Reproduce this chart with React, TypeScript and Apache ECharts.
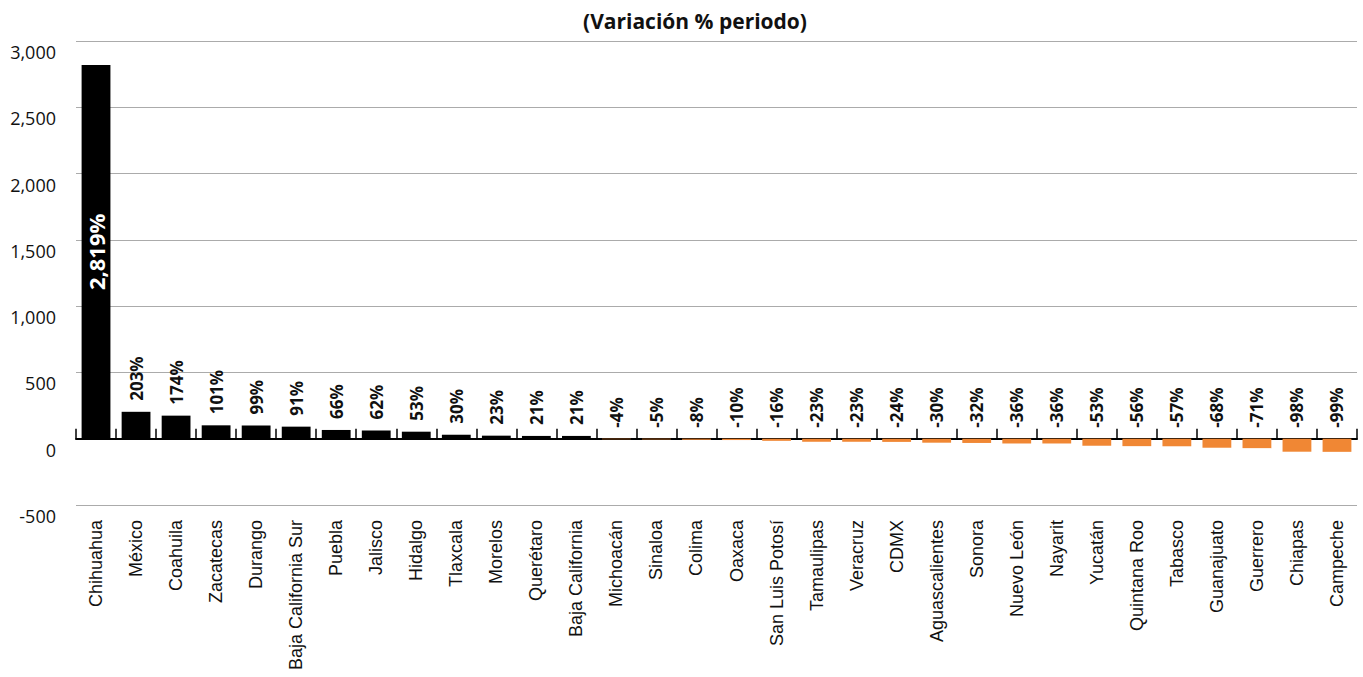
import React, { useEffect, useRef } from "react";
import * as echarts from "echarts";

const categories = [
  "Chihuahua", "México", "Coahuila", "Zacatecas", "Durango", "Baja California Sur",
  "Puebla", "Jalisco", "Hidalgo", "Tlaxcala", "Morelos", "Querétaro", "Baja California",
  "Michoacán", "Sinaloa", "Colima", "Oaxaca", "San Luis Potosí", "Tamaulipas", "Veracruz",
  "CDMX", "Aguascalientes", "Sonora", "Nuevo León", "Nayarit", "Yucatán", "Quintana Roo",
  "Tabasco", "Guanajuato", "Guerrero", "Chiapas", "Campeche",
];

const values = [
  2819, 203, 174, 101, 99, 91, 66, 62, 53, 30, 23, 21, 21,
  -4, -5, -8, -10, -16, -23, -23, -24, -30, -32, -36, -36, -53, -56,
  -57, -68, -71, -98, -99,
];

const yTicks = { min: -500, max: 3000, interval: 500 };
const title = "(Variación % periodo)";

const POS = "#000000";
const NEG = "#F08734";

const fmt = (v: number) => v.toLocaleString("en-US");

export default function App() {
  const ref = useRef<HTMLDivElement>(null);
  useEffect(() => {
    if (!ref.current) return;
    const chart = echarts.init(ref.current, undefined, { renderer: "svg" });
    const mainData = values.map((v, i) => ({
      value: v,
      itemStyle: { color: v >= 0 ? POS : NEG },
      label:
        i === 0
          ? {
              show: true,
              position: "inside",
              rotate: 90,
              color: "#ffffff",
              fontWeight: "bold",
              fontSize: 22,
              fontFamily: "Open Sans",
              formatter: () => fmt(v) + "%",
            }
          : { show: false },
    }));
    const labelData = values.map((v, i) => ({
      value: v >= 0 ? v : 0,
      label: { show: i !== 0 },
    }));
    chart.setOption({
      animation: false,
      title: {
        text: title,
        left: 690,
        top: 5,
        textAlign: "center",
        textStyle: {
          fontFamily: "Open Sans",
          fontWeight: "bold",
          fontSize: 21,
          color: "#111",
        },
      },
      grid: { left: 76, right: 6, top: 41, bottom: 172, containLabel: false },
      xAxis: [
        {
          type: "category",
          data: categories,
          axisLine: { onZero: true, lineStyle: { color: "#000", width: 2 } },
          axisTick: {
            show: true,
            inside: true,
            interval: 0,
            length: 10,
            lineStyle: { color: "#000", width: 1.5 },
          },
          axisLabel: { show: false },
          splitLine: { show: false },
        },
        {
          type: "category",
          data: categories,
          position: "bottom",
          axisLine: { show: false, onZero: false },
          axisTick: { show: false },
          axisLabel: {
            show: true,
            rotate: 90,
            interval: 0,
            margin: 15,
            fontSize: 18,
            fontFamily: "Liberation Sans",
            color: "#111",
          },
        },
      ],
      yAxis: {
        type: "value",
        min: yTicks.min,
        max: yTicks.max,
        interval: yTicks.interval,
        axisLine: { show: false },
        axisTick: { show: false },
        splitLine: { show: true, lineStyle: { color: "#ababab", width: 1.2 } },
        axisLabel: {
          fontSize: 18,
          fontFamily: "Open Sans",
          color: "#111",
          margin: 20,
          verticalAlign: "top",
          lineHeight: 22,
          formatter: (v: number) => fmt(v),
        },
      },
      series: [
        {
          type: "bar",
          xAxisIndex: 0,
          data: mainData,
          barWidth: "72%",
          barGap: "-100%",
        },
        {
          type: "bar",
          xAxisIndex: 0,
          data: labelData,
          barWidth: "72%",
          barGap: "-100%",
          silent: true,
          itemStyle: { color: "rgba(0,0,0,0)" },
          label: {
            show: true,
            position: "top",
            rotate: 90,
            align: "left",
            verticalAlign: "middle",
            distance: 11,
            fontSize: 17,
            fontWeight: "bold",
            fontFamily: "Open Sans",
            color: "#111",
            formatter: (p: any) => fmt(values[p.dataIndex]) + "%",
          },
        },
      ],
    });
    return () => chart.dispose();
  }, []);
  return (
    <div
      ref={ref}
      style={{ position: "absolute", left: 0, top: 0, width: 1363, height: 677, background: "#fff" }}
    />
  );
}
